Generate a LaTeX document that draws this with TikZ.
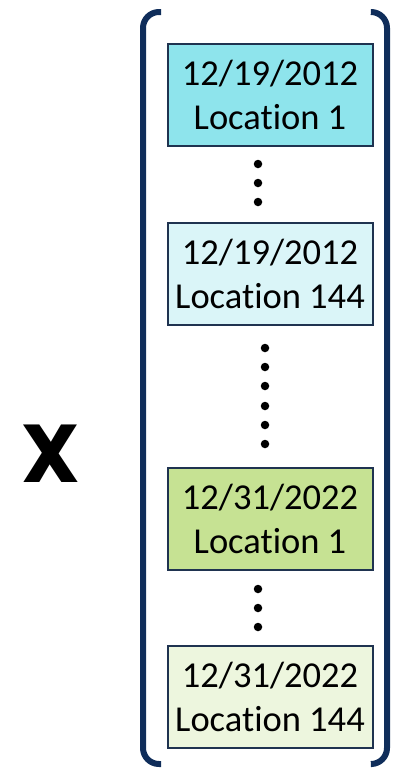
\documentclass[tikz,border=0pt]{standalone}
\usepackage{fontspec}
\setmainfont{Carlito}[Ligatures=NoCommon]
\newfontfamily\bigxfont{Poppins}
\definecolor{navy}{HTML}{0F2D5A}
\definecolor{boxline}{HTML}{1F3350}
\definecolor{cyanA}{HTML}{8EE4EC}
\definecolor{cyanB}{HTML}{DAF5F8}
\definecolor{greenA}{HTML}{C6E293}
\definecolor{greenB}{HTML}{EDF6DE}
\begin{document}
\begin{tikzpicture}[x=1pt,y=-1pt,
  entry/.style={draw=boxline, line width=2pt, minimum width=205pt, minimum height=102pt,
    inner sep=0pt, align=center, font=\fontsize{36.5}{44}\selectfont},
  dot/.style={circle, fill=black, inner sep=0pt, minimum size=8.5pt},
  brace/.style={draw=navy, line width=6pt, rounded corners=16pt}]
\useasboundingbox (0,0) rectangle (397,771);

% stacked records
\node[entry, fill=cyanA]  (r1) at (270,95)  {12/19/2012\hspace{9pt}\\Location 1\hspace{5pt}};
\node[entry, fill=cyanB]  (r2) at (270,274) {12/19/2012\\Location 144};
\node[entry, fill=greenA] (r3) at (270,519) {12/31/2022\hspace{9pt}\\Location 1\hspace{5pt}};
\node[entry, fill=greenB] (r4) at (270,697) {12/31/2022\\Location 144};

% ellipsis dots
\foreach \y [count=\i] in {164,183,202} \node[dot] (da\i) at (258,\y) {};
\foreach \y [count=\i] in {348,367,386,406,425,444} \node[dot] (db\i) at (265,\y) {};
\foreach \y [count=\i] in {589,608,627} \node[dot] (dc\i) at (258,\y) {};

% enclosing brackets
\draw[brace] (161,12) -- (143,12) -- (143,764) -- (161,764);
\draw[brace] (372,12) -- (387,12) -- (387,764) -- (372,764);

% multiplication sign
\node[font=\bigxfont\bfseries\fontsize{82}{82}\selectfont, inner sep=0pt] (times) at (51,454) {X};
\end{tikzpicture}
\end{document}
